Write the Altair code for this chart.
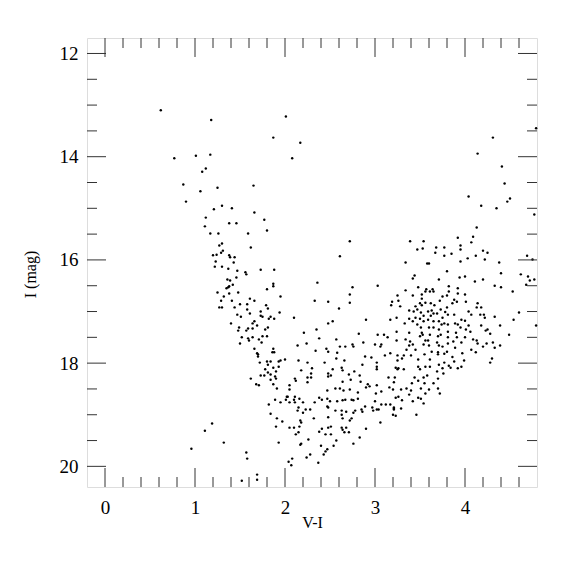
import altair as alt
import pandas as pd

# V-I colour and I magnitude of each star
vi = [
0.62,1.18,2.01,4.79,1.87,2.17,2.08,4.31,4.14,4.41,4.44,4.04,4.50,4.47,4.18,4.35,4.77,4.13,4.09,3.92,4.07,3.39,3.54,3.95,3.47,3.53,3.68,3.77,3.67,3.77,3.85,3.95,4.20,4.25,4.12,4.22,4.03,3.95,4.38,3.34,3.58,3.60,4.69,4.75,
0.77,1.01,1.17,1.12,1.08,0.87,1.06,1.25,1.65,0.90,1.30,1.21,1.41,1.66,1.12,1.77,1.11,1.38,1.46,1.80,1.17,1.26,1.59,
1.30,1.27,1.62,1.31,1.29,1.20,1.24,1.38,1.39,1.44,1.23,1.43,1.22,1.30,1.37,1.47,1.73,1.88,1.56,1.57,1.46,1.36,1.39,1.42,1.87,1.87,1.38,1.37,1.35,1.80,1.25,1.48,1.38,1.32,1.61,1.95,1.29,1.41,1.66,1.50,1.58,1.79,1.27,1.30,1.44,1.58,1.81,1.73,1.94,1.47,1.61,1.73,1.51,1.75,1.82,1.84,1.88,1.66,1.64,1.69,1.40,1.49,1.59,1.64,1.81,1.48,1.57,1.78,1.52,1.59,1.64,1.60,1.71,1.75,1.80,1.74,1.50,1.66,1.87,1.86,1.88,1.69,1.70,1.70,1.95,2.00,
1.72,1.80,1.84,1.93,1.81,1.78,1.87,1.93,1.90,1.81,1.84,1.73,1.77,1.89,1.90,1.84,1.62,1.68,1.71,1.87,1.91,2.05,2.05,2.02,2.03,2.01,1.89,1.95,2.05,1.82,1.84,1.91,1.97,1.19,1.90,2.05,1.11,1.32,1.93,0.96,1.57,1.58,2.04,1.69,1.69,1.52,
2.21,2.38,2.57,2.82,3.03,3.10,3.14,3.24,
2.14,2.24,2.46,2.48,2.61,2.67,2.75,2.76,2.87,3.00,3.06,3.07,3.24,
2.34,2.58,2.89,2.96,3.11,3.17,3.25,
2.15,2.25,2.44,2.57,2.66,2.86,3.02,3.02,3.02,3.25,3.25,
2.18,2.30,2.53,2.63,2.64,2.48,2.51,2.48,2.77,2.71,2.83,2.29,2.25,2.29,2.25,2.12,2.11,2.64,2.73,2.84,2.92,2.94,2.90,3.15,3.22,3.02,
2.47,2.56,2.61,2.65,2.72,2.81,3.01,3.07,3.16,3.20,3.23,
2.11,2.10,2.16,2.20,2.11,2.33,2.38,2.41,2.47,2.50,2.48,2.47,2.58,2.64,2.67,2.74,2.76,2.81,2.85,2.89,2.97,2.98,3.02,3.04,3.00,3.07,3.12,3.17,3.21,3.21,3.06,2.78,2.68,2.63,2.63,2.56,2.23,2.20,2.15,2.14,2.28,2.32,2.48,2.17,2.18,2.64,2.72,2.74,2.63,2.64,2.68,2.71,2.66,2.90,2.83,2.76,2.10,2.16,2.12,2.15,2.38,2.41,2.48,2.51,2.45,2.51,2.57,2.54,2.47,2.45,2.26,2.18,2.17,2.40,2.28,2.24,2.43,2.37,2.08,2.07,
2.72,2.61,2.36,2.72,2.33,2.48,2.72,2.60,2.10,2.53,2.48,2.35,
3.80,3.44,3.42,3.71,3.03,2.75,3.48,3.57,3.61,3.65,3.56,3.64,3.82,3.82,3.34,3.25,3.42,3.52,3.52,3.72,3.75,3.80,3.26,3.19,3.18,3.28,3.45,3.50,3.52,3.56,3.62,3.66,3.73,3.80,3.38,3.47,3.51,3.43,3.54,3.59,3.63,3.65,3.62,3.69,3.75,3.81,3.45,3.50,3.17,3.24,3.38,3.42,3.54,3.59,3.65,3.71,3.74,3.77,3.81,2.90,3.33,3.47,3.51,3.60,3.65,3.71,3.81,3.38,3.52,3.53,3.61,3.70,3.73,3.81,
4.40,3.94,4.00,4.11,4.20,4.62,4.70,4.72,4.77,4.68,4.33,4.40,4.53,3.92,4.00,3.92,3.88,3.91,4.01,3.86,4.14,4.13,4.18,4.04,4.07,4.17,4.21,4.22,4.33,4.60,4.54,4.79,3.78,3.88,3.96,4.00,3.89,3.92,3.95,4.04,4.06,4.01,4.18,4.23,4.25,4.28,4.39,4.49,3.90,3.91,4.00,3.87,3.96,4.09,4.13,4.14,4.24,4.20,4.31,4.33,4.39,3.89,4.07,4.12,3.97,4.30,4.28,3.99,3.88,3.96,3.92,3.77,3.86,3.82,3.84,
3.50,3.56,3.59,3.34,3.39,3.42,3.38,3.54,3.60,3.69,3.71,3.75,3.81,3.35,3.45,3.55,3.63,3.70,3.70,3.80,3.32,3.40,3.30,3.48,3.61,3.77,3.71,3.23,3.26,3.32,3.48,3.56,3.61,3.50,3.69,3.75,3.76,3.44,3.48,3.54,3.58,3.55,3.65,3.70,3.41,3.40,3.38,3.42,3.35,3.51,3.56,3.48,3.51,3.60,3.70,3.72,3.54,3.46,3.21,3.29,3.26,3.30,3.21,3.29,3.20,3.23,2.86,2.76,
]
imag = [
13.10,13.29,13.22,13.45,13.63,13.73,14.03,13.63,13.94,14.19,14.52,14.77,14.81,14.87,14.95,15.00,15.12,15.37,15.55,15.57,15.66,15.64,15.64,15.72,15.80,15.78,15.76,15.76,15.86,15.92,15.88,15.80,15.82,15.86,15.92,15.99,15.97,16.03,16.05,16.05,16.07,16.07,15.92,15.99,
14.03,13.98,13.96,14.23,14.29,14.54,14.67,14.60,14.56,14.87,14.95,15.02,15.00,15.08,15.18,15.22,15.35,15.29,15.29,15.43,15.49,15.49,15.49,
15.68,15.72,15.76,15.82,15.86,15.91,15.90,15.91,15.95,15.95,16.03,16.05,16.13,16.13,16.17,16.21,16.19,16.19,16.24,16.28,16.34,16.38,16.40,16.48,16.46,16.51,16.51,16.53,16.55,16.57,16.63,16.63,16.65,16.71,16.75,16.71,16.79,16.79,16.79,16.86,16.86,16.88,16.92,16.92,16.92,16.96,16.94,17.00,17.02,17.06,17.04,17.08,17.10,17.10,17.14,17.10,17.14,17.19,17.23,17.27,17.23,17.31,17.33,17.33,17.31,17.37,17.37,17.35,17.50,17.52,17.50,17.56,17.54,17.48,17.48,17.60,17.62,17.72,17.72,17.79,17.79,17.81,17.83,17.87,17.95,17.93,
17.99,17.97,17.97,17.97,18.03,18.12,18.09,18.07,18.16,18.18,18.22,18.24,18.24,18.26,18.30,18.32,18.30,18.41,18.43,18.41,18.49,18.43,18.51,18.65,18.65,18.71,18.71,18.76,18.76,18.80,18.98,19.07,19.13,19.17,19.23,19.25,19.31,19.54,19.54,19.66,19.73,19.85,19.91,20.16,20.26,20.28,
17.41,17.52,17.54,17.43,17.45,17.45,17.50,17.39,
17.66,17.62,17.72,17.78,17.68,17.68,17.64,17.68,17.60,17.64,17.68,17.64,17.56,
17.76,17.80,17.87,17.89,17.85,17.81,17.85,
17.95,17.99,17.99,17.91,17.95,18.03,17.99,18.07,18.12,17.95,18.12,
18.14,18.10,18.12,18.09,18.14,18.20,18.24,18.26,18.16,18.22,18.24,18.20,18.28,18.28,18.37,18.34,18.30,18.36,18.32,18.36,18.41,18.45,18.47,18.28,18.28,18.43,
18.53,18.49,18.49,18.53,18.51,18.57,18.59,18.55,18.47,18.51,18.67,
18.65,18.71,18.69,18.76,18.76,18.76,18.67,18.71,18.69,18.74,18.86,18.84,18.74,18.72,18.71,18.71,18.72,18.69,18.90,18.84,18.86,18.92,18.90,18.90,18.74,18.80,18.80,18.80,18.86,18.90,19.15,18.92,18.94,19.00,18.92,18.92,18.90,18.96,18.86,18.92,18.90,19.07,19.05,19.11,19.15,19.07,19.11,19.07,19.25,19.29,19.25,19.34,19.34,19.27,19.44,19.56,19.25,19.23,19.38,19.34,19.33,19.27,19.25,19.23,19.38,19.38,19.50,19.60,19.67,19.71,19.48,19.56,19.58,19.60,19.77,19.83,19.77,19.93,19.85,19.98,
15.64,15.93,16.44,16.67,16.79,16.81,16.83,16.94,17.12,17.19,17.23,17.35,
16.22,16.30,16.36,16.38,16.50,16.53,16.53,16.57,16.61,16.61,16.61,16.57,16.51,16.61,16.59,16.69,16.69,16.67,16.75,16.79,16.71,16.69,16.79,16.81,16.88,16.90,16.90,16.84,16.88,16.83,16.84,16.88,16.96,16.92,16.98,16.96,17.02,17.00,17.08,17.00,16.98,17.04,17.08,17.04,17.12,17.06,17.12,17.14,17.16,17.12,17.14,17.19,17.19,17.16,17.19,17.19,17.25,17.23,17.25,17.16,17.23,17.25,17.31,17.31,17.31,17.35,17.39,17.41,17.41,17.45,17.45,17.48,17.45,17.50,
16.26,16.34,16.32,16.42,16.38,16.28,16.32,16.40,16.38,16.48,16.50,16.53,16.61,16.55,16.67,16.65,16.77,16.81,16.81,16.84,16.84,16.92,16.92,17.00,17.06,17.06,17.06,17.12,17.10,17.02,17.16,17.27,17.01,17.06,17.16,17.18,17.23,17.25,17.31,17.27,17.39,17.35,17.27,17.37,17.35,17.43,17.27,17.45,17.41,17.50,17.50,17.58,17.60,17.54,17.56,17.62,17.62,17.68,17.60,17.70,17.66,17.70,17.74,17.79,17.81,17.91,17.99,17.95,17.97,18.07,18.10,17.82,17.88,18.05,18.09,
17.48,17.56,17.56,17.54,17.58,17.64,17.66,17.64,17.66,17.60,17.66,17.68,17.62,17.74,17.74,17.83,17.78,17.79,17.83,17.78,17.85,17.85,17.91,17.93,17.93,17.99,18.03,18.09,18.10,18.12,18.07,18.07,18.07,18.12,18.16,18.10,18.20,18.28,18.34,18.28,18.24,18.39,18.39,18.30,18.39,18.53,18.61,18.74,18.49,18.49,18.59,18.67,18.69,18.51,18.49,18.59,18.78,19.00,18.37,18.51,18.65,18.72,18.88,18.88,19.00,19.02,18.94,18.96,
]

x_major = [0, 1, 2, 3, 4]
x_minor = [0.2, 0.4, 0.6, 0.8, 1.2, 1.4, 1.6, 1.8, 2.2, 2.4, 2.6, 2.8, 3.2, 3.4, 3.6, 3.8, 4.2, 4.4, 4.6]
y_major = [12, 14, 16, 18, 20]
y_minor = [12.5, 13, 13.5, 14.5, 15, 15.5, 16.5, 17, 17.5, 18.5, 19, 19.5]

n = min(len(vi), len(imag))
stars = pd.DataFrame({"vi": vi[:n], "imag": imag[:n]})

W, H = 450, 449
FONT = "Liberation Serif"
TICK = "#333333"
xs = alt.Scale(domain=[-0.2, 4.8], nice=False, zero=False)
ys = alt.Scale(domain=[11.7, 20.4], reverse=True, nice=False, zero=False)

x_axis = alt.Axis(values=x_major, ticks=False, domain=False, grid=False,
                  labelFontSize=19, labelFont=FONT, labelPadding=11,
                  labelColor="black", titleFont=FONT, titleFontSize=16,
                  titleFontWeight="normal", titleColor="black",
                  titleY=27, titleBaseline="top")
y_axis = alt.Axis(values=y_major, ticks=False, domain=False, grid=False,
                  labelFontSize=19, labelFont=FONT, labelPadding=9,
                  labelColor="black", titleFont=FONT, titleFontSize=16,
                  titleFontWeight="normal", titleColor="black",
                  titleX=-57, titleY=236, titleBaseline="middle")

def X(field):
    return alt.X(field, scale=xs, axis=x_axis, title="V-I")

def Y(field):
    return alt.Y(field, scale=ys, axis=y_axis, title="I (mag)")

points = alt.Chart(stars).mark_circle(size=6, color="black", opacity=1).encode(
    x=X("vi:Q"), y=Y("imag:Q"),
)

def xticks(vals, length):
    d = pd.DataFrame({"vi": vals})
    base = alt.Chart(d).mark_rule(color=TICK, strokeWidth=1)
    bottom = base.encode(x=X("vi:Q"), y=alt.value(H), y2=alt.value(H - length))
    top = base.encode(x=X("vi:Q"), y=alt.value(0), y2=alt.value(length))
    return [bottom, top]

def yticks(vals, length):
    d = pd.DataFrame({"imag": vals})
    base = alt.Chart(d).mark_rule(color=TICK, strokeWidth=1)
    left = base.encode(y=Y("imag:Q"), x=alt.value(0), x2=alt.value(length))
    right = base.encode(y=Y("imag:Q"), x=alt.value(W), x2=alt.value(W - length))
    return [left, right]

layers = [points] + xticks(x_major, 19) + xticks(x_minor, 10) + yticks(y_major, 19) + yticks(y_minor, 10)

chart = alt.layer(*layers).properties(
    width=W, height=H,
    autosize=alt.AutoSizeParams(type="none"),
    padding={"left": 79, "top": 30, "right": 30, "bottom": 80},
).configure_view(stroke=TICK, strokeWidth=1).configure(background="white")

chart.save("out.html", embed_options={"renderer": "svg", "actions": False})
